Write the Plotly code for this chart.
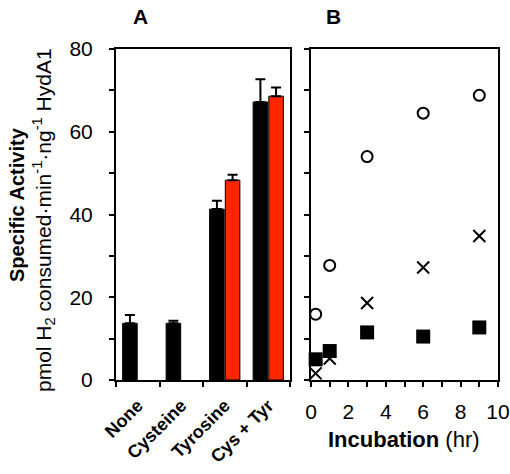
import plotly.graph_objects as go

# ---- Data ----
categories = ["None", "Cysteine", "Tyrosine", "Cys + Tyr"]
black_vals = [13.7, 13.7, 41.3, 67.2]
black_err = [2.0, 0.6, 2.0, 5.5]
red_vals = [None, None, 48.3, 68.6]
red_err = [0, 0, 1.3, 2.1]

time_hr = [0.25, 1, 3, 6, 9]
circle_vals = [15.9, 27.7, 54.0, 64.5, 68.8]
cross_vals = [1.6, 5.2, 18.6, 27.2, 34.8]
square_vals = [5.0, 7.0, 11.5, 10.5, 12.7]

FONT = "Liberation Sans, Arial, sans-serif"
W, H = 510, 474


def px(x):
    return x / W


def py(y):
    return 1 - y / H


fig = go.Figure()

fig.add_trace(go.Bar(
    x=categories, y=black_vals, xaxis="x", yaxis="y",
    marker=dict(color="black", line=dict(color="black", width=1)),
    error_y=dict(type="data", symmetric=False, array=black_err,
                 arrayminus=[0] * 4, color="black", thickness=2, width=5),
    showlegend=False,
))
fig.add_trace(go.Bar(
    x=categories, y=red_vals, xaxis="x", yaxis="y",
    marker=dict(color="#FF2600", line=dict(color="black", width=1)),
    error_y=dict(type="data", symmetric=False, array=red_err,
                 arrayminus=[0] * 4, color="black", thickness=2, width=5),
    showlegend=False,
))

fig.add_trace(go.Scatter(
    x=time_hr, y=circle_vals, xaxis="x2", yaxis="y2", mode="markers",
    marker=dict(symbol="circle-open", size=11, color="black",
                line=dict(color="black", width=2)),
    showlegend=False, cliponaxis=False,
))
fig.add_trace(go.Scatter(
    x=time_hr, y=square_vals, xaxis="x2", yaxis="y2", mode="markers",
    marker=dict(symbol="square", size=14, color="black"),
    showlegend=False, cliponaxis=False,
))
fig.add_trace(go.Scatter(
    x=time_hr, y=cross_vals, xaxis="x2", yaxis="y2", mode="markers",
    marker=dict(symbol="x-thin-open", size=12, color="black",
                line=dict(color="black", width=2)),
    showlegend=False, cliponaxis=False,
))

ydom = [py(380), py(49)]
axis_common = dict(showline=True, linecolor="black", linewidth=2, mirror=True,
                   ticks="outside", ticklen=5, tickwidth=2, tickcolor="black",
                   showgrid=False, zeroline=False, automargin=False,
                   tickfont=dict(family=FONT, size=21, color="black"))

fig.update_layout(
    width=W, height=H,
    margin=dict(l=0, r=0, t=0, b=0),
    paper_bgcolor="white", plot_bgcolor="white",
    barmode="group", bargap=0.28, bargroupgap=0.07,
    font=dict(family=FONT, color="black"),
    xaxis=dict(domain=[px(116), px(290)], anchor="y", type="category",
               range=[-0.5, 3.5], tickson="boundaries", tickangle=-45,
               ticklabelstandoff=6,
               **{**axis_common,
                  "tickfont": dict(family=FONT, size=18, color="black",
                                   weight="bold")}),
    yaxis=dict(domain=ydom, anchor="x", range=[0, 80], dtick=20, tick0=0,
               ticklabelstandoff=12,
               minor=dict(dtick=10, ticks="outside", ticklen=5, tickwidth=2,
                          tickcolor="black"),
               **axis_common),
    xaxis2=dict(domain=[px(311), px(498)], anchor="y2", range=[0, 10],
                dtick=2, tick0=0, ticklabelstandoff=7,
                minor=dict(dtick=1, ticks="outside", ticklen=5, tickwidth=2,
                           tickcolor="black"),
                **axis_common),
    yaxis2=dict(domain=ydom, anchor="x2", range=[0, 80], dtick=10,
                showticklabels=False, **axis_common),
)

ann = [
    dict(text="<b>A</b>", x=140, y=16, size=21),
    dict(text="<b>B</b>", x=333, y=16, size=21),
    dict(text="<b>Incubation</b> (hr)", x=404, y=439, size=22),
]
for a in ann:
    fig.add_annotation(text=a["text"], xref="paper", yref="paper",
                       x=px(a["x"]), y=py(a["y"]), showarrow=False,
                       xanchor="center", yanchor="middle",
                       font=dict(family=FONT, size=a["size"], color="black"))

fig.add_annotation(text="<b>Specific Activity</b>", xref="paper", yref="paper",
                   x=px(17), y=py(205), textangle=-90, showarrow=False,
                   xanchor="center", yanchor="middle",
                   font=dict(family=FONT, size=20, color="black"))
fig.add_annotation(text="pmol H<sub>2</sub> consumed·min<sup>-1</sup>·ng<sup>-1</sup> HydA1",
                   xref="paper", yref="paper",
                   x=px(43), y=py(220), textangle=-90, showarrow=False,
                   xanchor="center", yanchor="middle",
                   font=dict(family=FONT, size=21, color="black"))

# remove the browser's default 8px page margin so the figure sits at (0, 0)
fig.write_html("out.html",
               config={"displayModeBar": False},
               post_script="document.body.style.margin='0px';")
